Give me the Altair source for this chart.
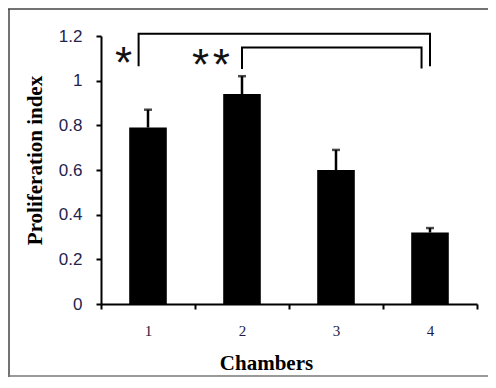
import altair as alt
import pandas as pd

chambers = [1, 2, 3, 4]
means = [0.79, 0.94, 0.60, 0.32]
errors = [0.08, 0.08, 0.09, 0.02]

bracket_id = ["outer", "outer", "outer", "outer", "inner", "inner", "inner", "inner"]
bracket_order = [0, 1, 2, 3, 0, 1, 2, 3]
bracket_x = [0.90, 0.90, 4.00, 4.00, 2.00, 2.00, 3.91, 3.91]
bracket_y = [1.065, 1.21, 1.21, 1.065, 1.052, 1.148, 1.148, 1.055]

star_labels = ["*", "*\u200a*"]
star_x = [0.74, 1.67]
star_y = [1.07, 1.06]

y_ticks = [0, 0.2, 0.4, 0.6, 0.8, 1.0, 1.2]
x_ticks = [0.5, 1, 1.5, 2, 2.5, 3, 3.5, 4, 4.5]

bars = pd.DataFrame({"chamber": chambers, "mean": means, "err": errors})
brackets = pd.DataFrame({"id": bracket_id, "o": bracket_order, "x": bracket_x, "y": bracket_y})
stars = pd.DataFrame({"label": star_labels, "x": star_x, "y": star_y})

xscale = alt.Scale(domain=[0.5, 4.5], nice=False, zero=False)
yscale = alt.Scale(domain=[0, 1.2], nice=False)

xaxis = alt.Axis(
    values=x_ticks,
    labelExpr="datum.value % 1 === 0 ? format(datum.value, 'd') : ''",
    tickOpacity={"condition": {"test": "datum.value % 1 === 0", "value": 0}, "value": 1},
    labelOverlap=False,
    labelFlush=False,
    grid=False,
    domainColor="black",
    domainWidth=2,
    tickColor="black",
    tickWidth=2,
    tickSize=5,
    labelFont="Liberation Serif",
    labelFontSize=15,
    labelColor="#221a40",
    labelPadding=14,
    title="Chambers",
    titleFont="Liberation Serif",
    titleFontSize=21,
    titleFontWeight="bold",
    titleColor="black",
    titleX=165,
    titleY=59,
    titleAlign="center",
    titleBaseline="middle",
)

yaxis = alt.Axis(
    values=y_ticks,
    format="~g",
    grid=False,
    domainColor="black",
    domainWidth=2,
    tickColor="black",
    tickWidth=2,
    tickSize=5,
    labelFont="Liberation Sans",
    labelFontSize=17,
    labelColor="#23234f",
    labelPadding=14,
    title="Proliferation index",
    titleFont="Liberation Serif",
    titleFontSize=21,
    titleFontWeight="bold",
    titleColor="black",
    titleX=-66,
    titleY=124,
    titleAngle=-90,
    titleAlign="center",
    titleBaseline="middle",
)

base = alt.Chart(bars)

bar_layer = base.transform_calculate(
    x0="datum.chamber - 0.2", x1="datum.chamber + 0.2"
).mark_bar(color="black").encode(
    x=alt.X("x0:Q", scale=xscale, axis=xaxis),
    x2="x1:Q",
    y=alt.Y("mean:Q", scale=yscale, axis=yaxis),
    y2=alt.datum(0),
)

err_rule = base.transform_calculate(top="datum.mean + datum.err").mark_rule(
    color="black", strokeWidth=2.5
).encode(
    x=alt.X("chamber:Q", scale=xscale),
    y=alt.Y("mean:Q", scale=yscale),
    y2="top:Q",
)

err_cap = base.transform_calculate(top="datum.mean + datum.err").mark_tick(
    color="black", orient="horizontal", size=8, thickness=2.5
).encode(
    x=alt.X("chamber:Q", scale=xscale),
    y=alt.Y("top:Q", scale=yscale),
)

bracket_layer = alt.Chart(brackets).mark_line(
    color="black", strokeWidth=2, strokeJoin="miter", strokeCap="butt"
).encode(
    x=alt.X("x:Q", scale=xscale),
    y=alt.Y("y:Q", scale=yscale),
    detail="id:N",
    order="o:Q",
)

star_layer = alt.Chart(stars).mark_text(
    font="Liberation Sans", fontSize=44, color="#111111", baseline="middle", align="center"
).encode(
    x=alt.X("x:Q", scale=xscale),
    y=alt.Y("y:Q", scale=yscale),
    text="label:N",
)

one = pd.DataFrame({"a": [0]})
frame_top = alt.Chart(one).mark_rule(color="#444444", strokeWidth=1.5).encode(
    x=alt.value(-93), x2=alt.value(387), y=alt.value(-27)
)
frame_left = alt.Chart(one).mark_rule(color="#444444", strokeWidth=1.5).encode(
    x=alt.value(-92), y=alt.value(-27), y2=alt.value(341)
)
frame_bottom = alt.Chart(one).mark_rule(color="#777777", strokeWidth=1.5).encode(
    x=alt.value(-93), x2=alt.value(387), y=alt.value(340)
)

chart = alt.layer(
    frame_top, frame_left, frame_bottom, bar_layer, err_rule, err_cap, bracket_layer, star_layer
).properties(
    width=376,
    height=268,
    autosize=alt.AutoSizeParams(type="none"),
    padding={"left": 93, "top": 28, "right": 11, "bottom": 74},
    background="white",
).configure_view(stroke=None)

chart.save("out.html", embed_options={"renderer": "svg", "actions": False})
